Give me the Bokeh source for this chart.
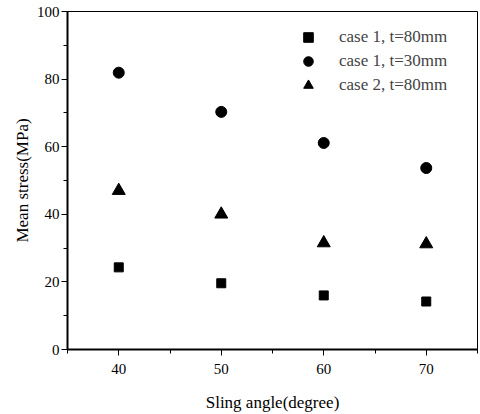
from bokeh.plotting import figure
from bokeh.models import Range1d, FixedTicker, Legend, LegendItem
from bokeh.embed import file_html
from bokeh.resources import INLINE

angles = [40, 50, 60, 70]
case1_t80 = [24.3, 19.6, 16.0, 14.2]
case1_t30 = [81.9, 70.3, 61.1, 53.7]
case2_t80 = [47.0, 40.0, 31.5, 31.2]
labels = ["case 1, t=80mm", "case 1, t=30mm", "case 2, t=80mm"]

FONT = "Liberation Serif"

p = figure(width=480, height=414, output_backend="svg", toolbar_location=None,
           x_range=Range1d(35, 75), y_range=Range1d(0, 100),
           min_border_left=67, min_border_right=3, min_border_top=11, min_border_bottom=65)
p.frame_width = 410
p.frame_height = 338
p.xgrid.visible = False
p.ygrid.visible = False
p.outline_line_color = "black"
p.outline_line_width = 1
p.background_fill_color = "white"
p.border_fill_color = "white"

r1 = p.scatter(angles, case1_t80, marker="square", size=9, color="black")
r2 = p.scatter(angles, case1_t30, marker="circle", size=11, color="black")
r3 = p.scatter(angles, case2_t80, marker="triangle", size=13, color="black")

p.xaxis.ticker = FixedTicker(ticks=[40, 50, 60, 70], minor_ticks=[35, 45, 55, 65, 75])
p.yaxis.ticker = FixedTicker(ticks=[0, 20, 40, 60, 80, 100], minor_ticks=[10, 30, 50, 70, 90])

for ax in (p.xaxis[0], p.yaxis[0]):
    ax.axis_line_width = 2
    ax.axis_line_color = "black"
    ax.major_tick_line_color = "black"
    ax.minor_tick_line_color = "black"
    ax.major_tick_out = 6
    ax.major_tick_in = 0
    ax.minor_tick_out = 4
    ax.minor_tick_in = 0
    ax.major_label_text_font = FONT
    ax.major_label_text_font_size = "15px"
    ax.major_label_text_color = "black"
    ax.axis_label_text_font = FONT
    ax.axis_label_text_font_size = "17px"
    ax.axis_label_text_font_style = "normal"
    ax.axis_label_text_color = "black"

p.xaxis.axis_label = "Sling angle(degree)"
p.yaxis.axis_label = "Mean stress(MPa)"
p.xaxis.major_label_standoff = 8
p.xaxis.axis_label_standoff = 16
p.yaxis.major_label_standoff = 2
p.yaxis.axis_label_standoff = 2

legend = Legend(items=[LegendItem(label=labels[0], renderers=[r1]),
                       LegendItem(label=labels[1], renderers=[r2]),
                       LegendItem(label=labels[2], renderers=[r3])],
                location=(229, 252))
legend.border_line_color = None
legend.background_fill_alpha = 0
legend.label_text_font = FONT
legend.label_text_font_size = "17px"
legend.label_standoff = 19
legend.spacing = 0
legend.padding = 10
legend.label_height = 24
legend.glyph_height = 24
legend.glyph_width = 24
p.add_layout(legend)

open("out.html", "w").write(file_html(p, INLINE))
